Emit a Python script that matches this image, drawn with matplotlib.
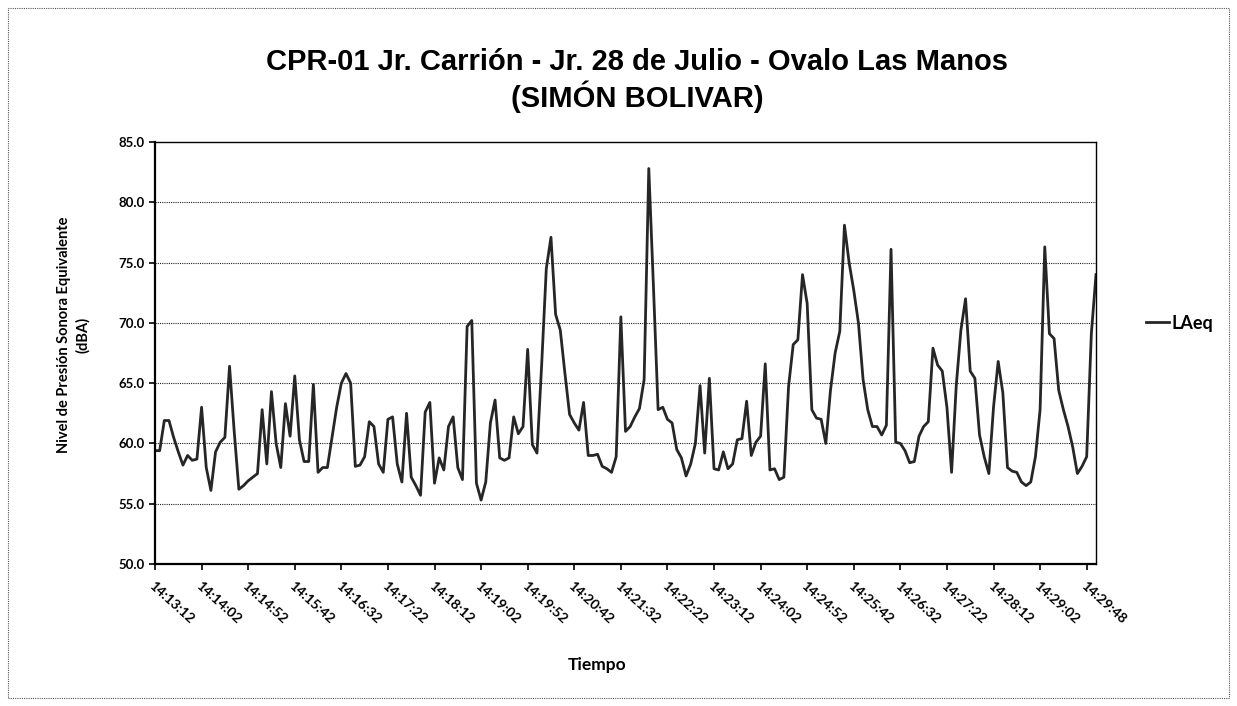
import matplotlib
matplotlib.use("Agg")
import matplotlib.pyplot as plt
from matplotlib.patches import Rectangle

laeq = [
    59.4, 59.4, 61.9, 61.9, 60.5, 59.3, 58.2, 59.0, 58.6, 58.7,
    63.0, 58.0, 56.1, 59.3, 60.1, 60.5, 66.4, 61.0, 56.2, 56.5,
    56.9, 57.2, 57.5, 62.8, 58.3, 64.3, 60.0, 58.0, 63.3, 60.6,
    65.6, 60.3, 58.5, 58.5, 64.9, 57.6, 58.0, 58.0, 60.5, 63.0,
    65.0, 65.8, 65.0, 58.1, 58.2, 58.9, 61.8, 61.4, 58.3, 57.6,
    62.0, 62.2, 58.3, 56.8, 62.5, 57.2, 56.5, 55.7, 62.6, 63.4,
    56.7, 58.8, 57.8, 61.4, 62.2, 58.0, 57.0, 69.7, 70.2, 56.7,
    55.3, 56.8, 61.7, 63.6, 58.8, 58.6, 58.8, 62.2, 60.8, 61.4,
    67.8, 59.9, 59.2, 66.5, 74.5, 77.1, 70.7, 69.4, 65.8, 62.4,
    61.7, 61.1, 63.4, 59.0, 59.0, 59.1, 58.1, 57.9, 57.6, 58.9,
    70.5, 61.0, 61.4, 62.2, 62.9, 65.3, 82.8, 73.0, 62.8, 63.0,
    62.0, 61.7, 59.5, 58.8, 57.3, 58.3, 60.0, 64.8, 59.2, 65.4,
    57.9, 57.8, 59.3, 57.9, 58.3, 60.3, 60.4, 63.5, 59.0, 60.1,
    60.6, 66.6, 57.8, 57.9, 57.0, 57.2, 64.7, 68.2, 68.6, 74.0,
    71.6, 62.8, 62.1, 62.0, 60.0, 64.4, 67.5, 69.3, 78.1, 75.0,
    72.7, 70.0, 65.3, 62.8, 61.4, 61.4, 60.7, 61.5, 76.1, 60.1,
    60.0, 59.4, 58.4, 58.5, 60.6, 61.4, 61.8, 67.9, 66.5, 66.0,
    63.0, 57.6, 64.8, 69.4, 72.0, 66.0, 65.4, 60.7, 58.9, 57.5,
    63.0, 66.8, 64.2, 58.0, 57.7, 57.6, 56.8, 56.5, 56.8, 58.9,
    62.8, 76.3, 69.1, 68.7, 64.4, 62.8, 61.4, 59.7, 57.5, 58.1,
    58.9, 69.1, 74.0,
]

# etiquetas del eje de tiempo (una cada 10 mediciones)
tick_labels = [
    "14:13:12", "14:14:02", "14:14:52", "14:15:42", "14:16:32", "14:17:22",
    "14:18:12", "14:19:02", "14:19:52", "14:20:42", "14:21:32", "14:22:22",
    "14:23:12", "14:24:02", "14:24:52", "14:25:42", "14:26:32", "14:27:22",
    "14:28:12", "14:29:02", "14:29:48",
]
tick_pos = [10 * k for k in range(len(tick_labels))]
y_ticks = [50, 55, 60, 65, 70, 75, 80, 85]

plt.rcParams['font.family'] = ['Lato', 'DejaVu Sans']

W, H = 1237, 706
fig = plt.figure(figsize=(W / 100, H / 100), dpi=100)
ax = fig.add_axes([155 / W, 1 - 564 / H, (1096 - 155) / W, (564 - 142) / H])

ax.plot(range(len(laeq)), laeq, color='#262626', lw=2.0, label='LAeq')

ax.set_xlim(0, len(laeq) - 1)
ax.set_ylim(50, 85)
ax.set_yticks(y_ticks)
ax.set_yticklabels([f"{v:.1f}" for v in y_ticks], fontsize=9.5, fontweight='bold')
ax.set_xticks(tick_pos)
ax.set_xticklabels(tick_labels, rotation=-42, ha='left', va='top',
                   rotation_mode='anchor', fontsize=10, fontweight='bold')
ax.tick_params(axis='both', direction='out', length=4, width=1.2, color='black')
ax.tick_params(axis='x', pad=7)

for v in y_ticks[1:-1]:
    ax.axhline(v, color='#222222', lw=0.8, ls=(0, (1, 1)), zorder=0)

for s in ['left', 'bottom']:
    ax.spines[s].set_linewidth(1.6)
for s in ['right', 'top']:
    ax.spines[s].set_linewidth(1.0)

title_font = ['Liberation Sans Narrow', 'Liberation Sans']
fig.text(0.515, 1 - 62 / H, "CPR-01 Jr. Carrión - Jr. 28 de Julio - Ovalo Las Manos",
         ha='center', va='center', fontsize=21, fontweight='bold', family=title_font)
fig.text(0.515, 1 - 97 / H, "(SIMÓN BOLIVAR)",
         ha='center', va='center', fontsize=21, fontweight='bold', family=title_font)

fig.text(74 / W, 1 - 335 / H, "Nivel de Presión Sonora Equivalente\n(dBA)",
         rotation=90, ha='center', va='center', fontsize=10.5,
         fontweight='bold', linespacing=1.4)
fig.text(597 / W, 1 - 665 / H, "Tiempo", ha='center', va='center',
         fontsize=12.5, fontweight='bold')

fig.legend(loc='center left', bbox_to_anchor=(1146 / W, 1 - 323 / H),
           frameon=False, handlelength=1.3, handletextpad=0.1,
           borderpad=0, borderaxespad=0,
           prop={'size': 13, 'weight': 'bold'})

fig.patches.append(Rectangle((8 / W, 8 / H), 1 - 16 / W, 1 - 16 / H,
                             transform=fig.transFigure, fill=False,
                             edgecolor='#555555', lw=0.8, ls=(0, (1, 1))))

fig.savefig("out.png", dpi=100)
